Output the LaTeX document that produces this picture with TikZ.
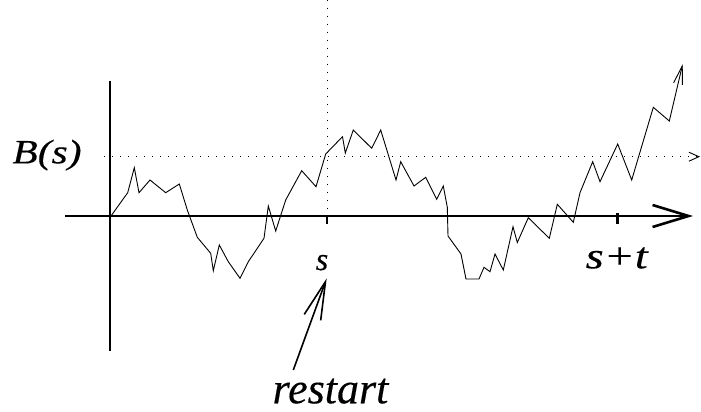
\documentclass[tikz,border=0pt]{standalone}
\usepackage{fontspec}
\setmainfont{Liberation Serif}
\newfontfamily\labfont{Liberation Serif Italic}[FakeBold=0.3]
\usetikzlibrary{arrows.meta}
\begin{document}
\begin{tikzpicture}[x=1pt,y=-1pt,
  axis/.style={line width=2.6pt},
  ticks/.style={line width=2.6pt},
  dots/.style={line width=0.9pt, dash pattern=on 1pt off 7pt},
  walk/.style={line width=0.9pt},
  lab/.style={inner sep=0pt, anchor=base},
  pointer/.style={line width=1.6pt}]
\path[use as bounding box] (0,0) rectangle (701,412);
% axes
\coordinate (hl) at (65,216);
\coordinate (hr) at (693,216);
\coordinate (vt) at (110,80.5);
\coordinate (vb) at (110,350.5);
\draw[axis] (vt) -- (vb);
\draw[axis, -{Straight Barb[length=36pt,width=22pt]}] (hl) -- (hr);
% dotted guides
\coordinate (dl) at (104,156.7);
\coordinate (dr) at (700,156.7);
\coordinate (dtop) at (327,0);
\coordinate (dbot) at (327,216);
\draw[dots, -{Straight Barb[length=10pt,width=9pt]}] (dl) -- (dr);
\draw[dots] (dtop) -- (dbot);
% ticks
\coordinate (t1a) at (327,216);
\coordinate (t1b) at (327,224);
\coordinate (t2a) at (617.7,213);
\coordinate (t2b) at (617.7,224);
\draw[ticks] (t1a) -- (t1b);
\draw[ticks] (t2a) -- (t2b);
% brownian path
\coordinate (w0) at (111,216);
\coordinate (wend) at (682.7,64);
\draw[walk, -{Straight Barb[length=18.5pt,width=9pt]}] (w0)
 -- (127.7,192.7) -- (134.3,167.7) -- (139,192.7) -- (150,180) -- (165.7,192.7)
 -- (179.3,184) -- (187.3,210) -- (197.3,237.3) -- (210.7,253.3) -- (213.3,270.7)
 -- (219.3,245) -- (228.3,261.7) -- (240,278.3) -- (248.3,261.7) -- (264,238.3)
 -- (268.3,206) -- (275.7,231) -- (285.7,200) -- (301.7,170.7) -- (316,186.7)
 -- (325.7,154) -- (342.5,136.7) -- (345.3,153) -- (353.3,130) -- (371.7,148.3)
 -- (380.7,130) -- (396,180) -- (400.7,161.7) -- (414,186) -- (425.7,177.3)
 -- (436.7,199.3) -- (443.3,186) -- (447.3,207.3) -- (448,236) -- (461,254)
 -- (466,279) -- (479,279) -- (484,267.3) -- (490,271.7) -- (495,254)
 -- (503.3,270) -- (513,226.7) -- (517.3,242.5) -- (528.3,217.7) -- (549.3,238.3)
 -- (557.3,204.3) -- (573.3,222.3) -- (580,192.7) -- (592.7,161.7) -- (600,181.7)
 -- (617.7,144) -- (631.7,180) -- (653.3,107.3) -- (669.3,121) -- (wend);
% labels
\node[lab] (Bs) at (47,163.3) {\scalebox{1.22}[1]{\fontsize{34}{34}\labfont B(s)}};
\node[lab] (s) at (322,270) {\fontsize{32}{32}\labfont s};
\node[lab] (st) at (616.7,268.3) {\scalebox{1.25}[1]{\fontsize{37}{37}\labfont s+t}};
\node[lab] (rs) at (330.5,403.3) {\fontsize{44}{44}\labfont restart};
% pointer arrow
\coordinate (ptail) at (293.3,370);
\coordinate (ptip) at (326.7,278.3);
\draw[pointer, -{Straight Barb[length=38pt,width=17.5pt]}] (ptail) -- (ptip);
\end{tikzpicture}
\end{document}
